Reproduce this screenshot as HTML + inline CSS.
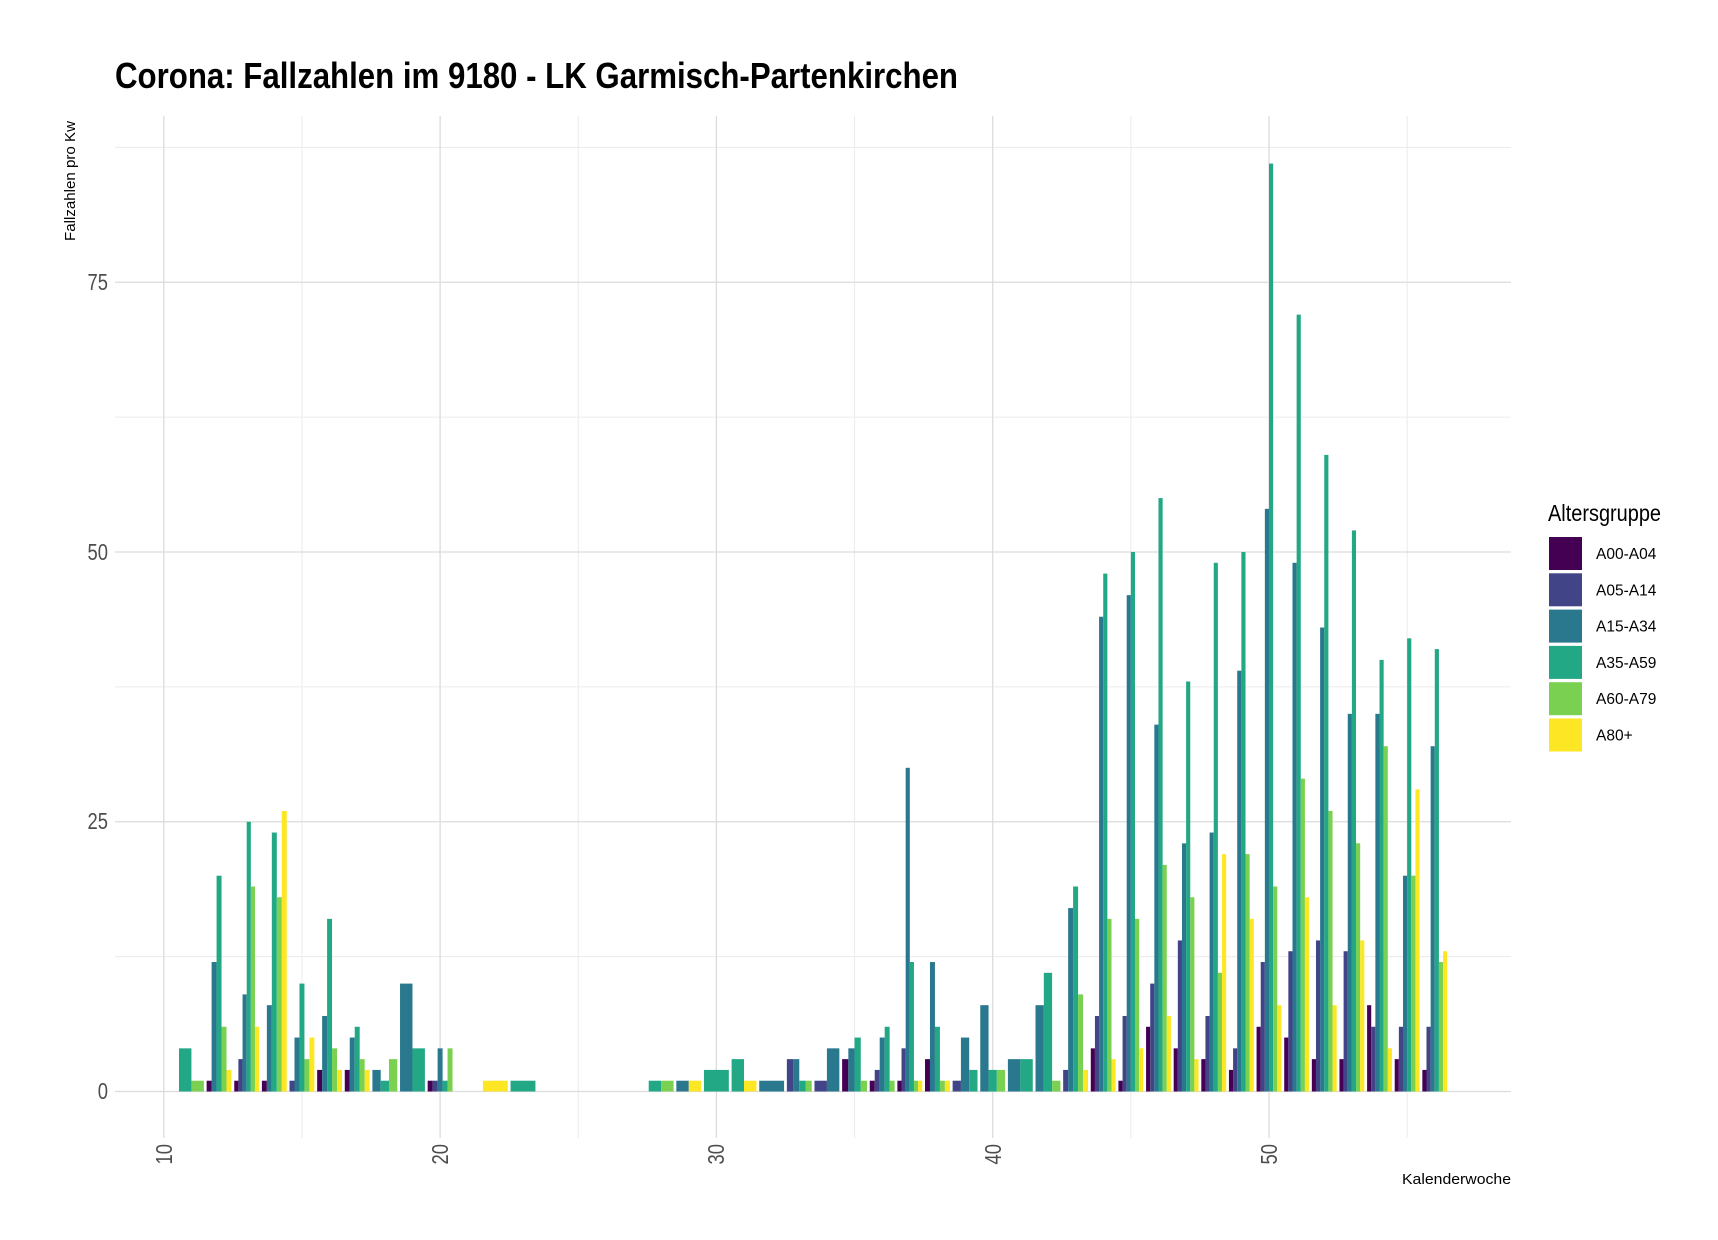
<!DOCTYPE html>
<html><head><meta charset="utf-8"><style>
body{margin:0;background:#fff;}
svg{display:block;}
</style></head><body>
<svg id="s" width="1718" height="1240" xmlns="http://www.w3.org/2000/svg">
<rect width="1718" height="1240" fill="#fff"/>
<g id="grid"></g>
<g id="bars"></g>
<text x="115" y="88" font-family="Liberation Sans Narrow, Liberation Sans, sans-serif" font-weight="bold" font-size="36" fill="#000" textLength="843" lengthAdjust="spacingAndGlyphs">Corona: Fallzahlen im 9180 - LK Garmisch-Partenkirchen</text>
<text transform="translate(75,181) rotate(-90)" text-anchor="middle" font-family="Liberation Sans Narrow, Liberation Sans, sans-serif" font-size="15" fill="#000" textLength="120" lengthAdjust="spacingAndGlyphs">Fallzahlen pro Kw</text>
<text x="1511" y="1184" text-anchor="end" font-family="Liberation Sans Narrow, Liberation Sans, sans-serif" font-size="15" fill="#000" textLength="109" lengthAdjust="spacingAndGlyphs">Kalenderwoche</text>
<g font-family="Liberation Sans Narrow, Liberation Sans, sans-serif" font-size="23" fill="#4d4d4d" text-anchor="end">
<text transform="translate(108,1099) scale(0.8,1)">0</text>
<text transform="translate(108,829) scale(0.8,1)">25</text>
<text transform="translate(108,560) scale(0.8,1)">50</text>
<text transform="translate(108,290) scale(0.8,1)">75</text>
</g>
<g font-family="Liberation Sans Narrow, Liberation Sans, sans-serif" font-size="23" fill="#4d4d4d" text-anchor="end">
<text transform="translate(172,1144) rotate(-90) scale(0.8,1)">10</text>
<text transform="translate(448,1144) rotate(-90) scale(0.8,1)">20</text>
<text transform="translate(724,1144) rotate(-90) scale(0.8,1)">30</text>
<text transform="translate(1001,1144) rotate(-90) scale(0.8,1)">40</text>
<text transform="translate(1277,1144) rotate(-90) scale(0.8,1)">50</text>
</g>
<text x="1548" y="521" font-family="Liberation Sans Narrow, Liberation Sans, sans-serif" font-size="23" fill="#000" textLength="113" lengthAdjust="spacingAndGlyphs">Altersgruppe</text>
<g id="leg" font-family="Liberation Sans Narrow, Liberation Sans, sans-serif" font-size="15.5" fill="#000"></g>
</svg>
<script>
var NS="http://www.w3.org/2000/svg";
function el(p,t,a,txt){var e=document.createElementNS(NS,t);for(var k in a)e.setAttribute(k,a[k]);if(txt)e.textContent=txt;p.appendChild(e);return e;}
var X0=163.8,PW=27.63,Y0=1091.5,PU=10.79,L=115,R=1511,T=116,B=1138;
var g=document.getElementById('grid');
[12.5,37.5,62.5,87.5].forEach(function(v){el(g,'line',{x1:L,x2:R,y1:Y0-v*PU,y2:Y0-v*PU,stroke:'#ececec','stroke-width':1});});
[15,25,35,45,55].forEach(function(w){var x=X0+(w-10)*PW;el(g,'line',{x1:x,x2:x,y1:T,y2:B,stroke:'#ececec','stroke-width':1});});
[0,25,50,75].forEach(function(v){el(g,'line',{x1:L,x2:R,y1:Y0-v*PU,y2:Y0-v*PU,stroke:'#dcdcdc','stroke-width':1.3});});
[10,20,30,40,50].forEach(function(w){var x=X0+(w-10)*PW;el(g,'line',{x1:x,x2:x,y1:T,y2:B,stroke:'#dcdcdc','stroke-width':1.3});});
var C=['#440154','#414487','#2A788E','#22A884','#7AD151','#FDE725'];
var D={
11:[0,0,0,4,1,0],12:[1,0,12,20,6,2],13:[1,3,9,25,19,6],14:[1,0,8,24,18,26],15:[0,1,5,10,3,5],
16:[2,0,7,16,4,2],17:[2,0,5,6,3,2],18:[0,0,2,1,3,0],19:[0,0,10,4,0,0],20:[1,1,4,1,4,0],
22:[0,0,0,0,0,1],23:[0,0,0,1,0,0],28:[0,0,0,1,1,0],29:[0,0,1,0,0,1],30:[0,0,0,2,0,0],31:[0,0,0,3,0,1],
32:[0,0,1,0,0,0],33:[0,3,3,1,1,0],34:[0,1,4,0,0,0],35:[3,0,4,5,1,0],36:[1,2,5,6,1,0],
37:[1,4,30,12,1,1],38:[3,0,12,6,1,1],39:[0,1,5,2,0,0],40:[0,0,8,2,2,0],41:[0,0,3,3,0,0],
42:[0,0,8,11,1,0],43:[0,2,17,19,9,2],44:[4,7,44,48,16,3],45:[1,7,46,50,16,4],46:[6,10,34,55,21,7],
47:[4,14,23,38,18,3],48:[3,7,24,49,11,22],49:[2,4,39,50,22,16],50:[6,12,54,86,19,8],
51:[5,13,49,72,29,18],52:[3,14,43,59,26,8],53:[3,13,35,52,23,14],54:[8,6,35,40,32,4],
55:[3,6,20,42,20,28],56:[2,6,32,41,12,13]};
var b=document.getElementById('bars');
for(var w in D){var v=D[w];var idx=[];v.forEach(function(a,i){if(a>0)idx.push(i);});
 var tw=0.9*PW,bw=tw/idx.length,x=X0+(w-10)*PW-tw/2;
 idx.forEach(function(i,j){el(b,'rect',{x:x+j*bw,y:Y0-v[i]*PU,width:bw,height:v[i]*PU,fill:C[i]});});}
var lg=document.getElementById('leg');
['A00-A04','A05-A14','A15-A34','A35-A59','A60-A79','A80+'].forEach(function(n,i){
 var y=537+i*36.3;el(lg,'rect',{x:1549,y:y,width:33,height:33,fill:C[i]});
 el(lg,'text',{x:1596,y:y+22},n);});
</script>
</body></html>
